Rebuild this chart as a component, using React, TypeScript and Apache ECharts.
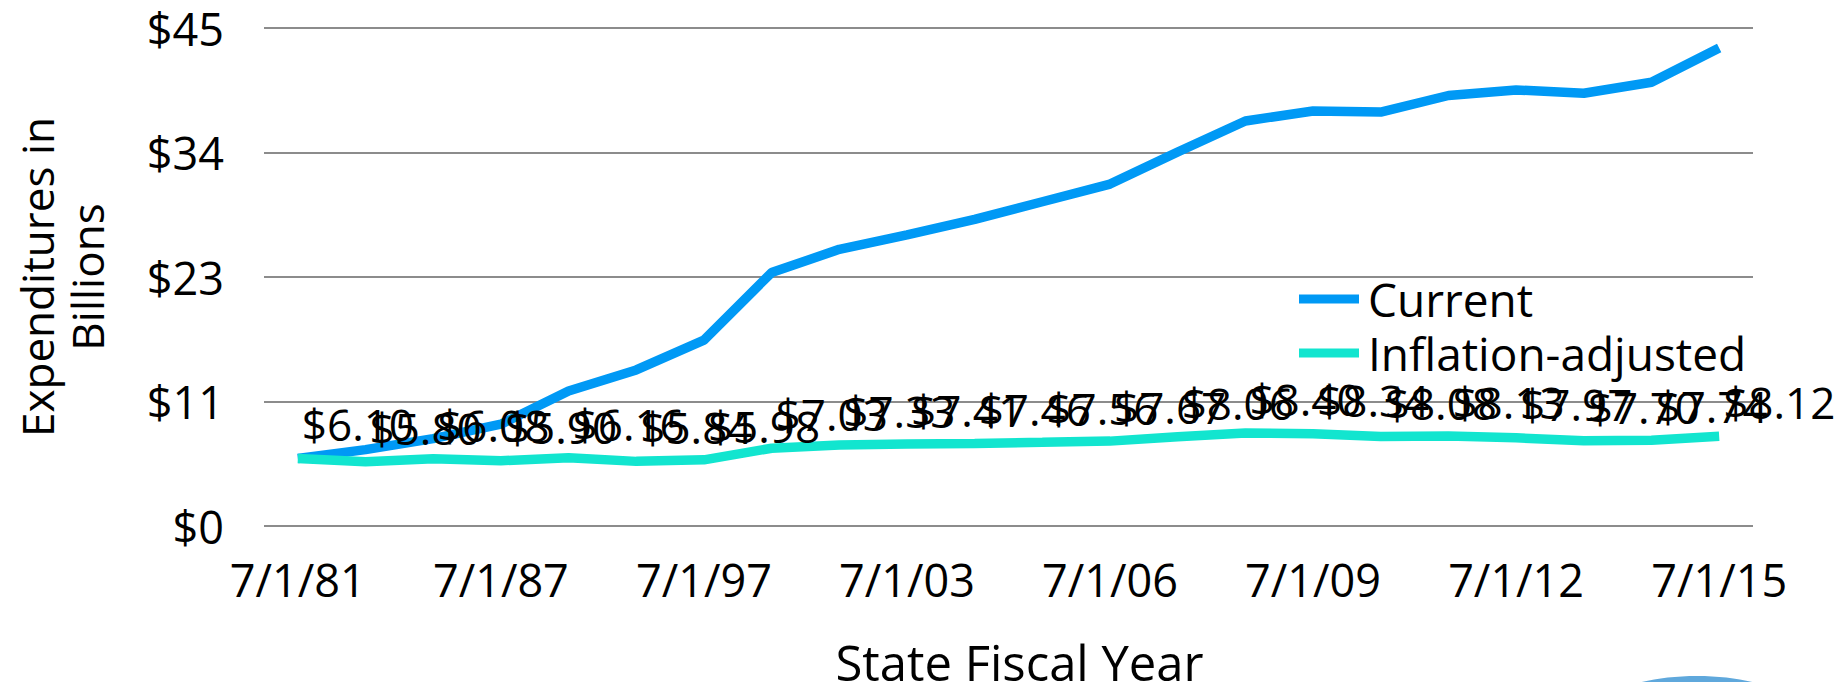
import React, { useEffect, useRef } from "react";
import * as echarts from "echarts";

const categories = [
  "7/1/81", "7/1/83", "7/1/85", "7/1/87", "7/1/91", "7/1/94", "7/1/97", "7/1/99",
  "7/1/01", "7/1/03", "7/1/04", "7/1/05", "7/1/06", "7/1/07", "7/1/08", "7/1/09",
  "7/1/10", "7/1/11", "7/1/12", "7/1/13", "7/1/14", "7/1/15",
];

const currentValues = [
  6.1, 6.9, 7.9, 9.2, 12.2, 14.1, 16.8, 22.9, 25.0, 26.3, 27.7, 29.3,
  30.9, 33.8, 36.6, 37.5, 37.4, 38.9, 39.4, 39.1, 40.1, 43.2,
];

const inflationAdjusted = [
  6.10, 5.80, 6.08, 5.90, 6.16, 5.84, 5.98, 7.03, 7.33, 7.41, 7.46, 7.56,
  7.67, 8.06, 8.40, 8.34, 8.08, 8.13, 7.97, 7.70, 7.74, 8.12,
];

const seriesNames = ["Current", "Inflation-adjusted"];
const yTickMax = 45;
const yTickStep = 11.25;

const FONT = "'Open Sans', sans-serif";

export default function App() {
  const ref = useRef<HTMLDivElement>(null);

  useEffect(() => {
    if (!ref.current) return;
    const chart = echarts.init(ref.current, null, { renderer: "svg" });
    chart.setOption({
      animation: false,
      backgroundColor: "#ffffff",
      textStyle: { fontFamily: FONT, color: "#000" },
      grid: {
        left: 264,
        right: 92,
        top: 28,
        bottom: 156,
        containLabel: false,
        outerBoundsMode: "none",
      },
      legend: {
        orient: "vertical",
        left: 1294,
        top: 270,
        itemWidth: 60,
        itemHeight: 9,
        itemGap: 6,
        icon: "rect",
        data: seriesNames,
        textStyle: { fontFamily: FONT, fontSize: 46, color: "#000", lineHeight: 48, padding: [0, 0, 0, 4] },
      },
      xAxis: {
        type: "category",
        data: categories,
        boundaryGap: true,
        axisLine: { show: false },
        axisTick: { show: false },
        axisLabel: { interval: 2, margin: 30, fontSize: 45, color: "#000", fontFamily: FONT, lineHeight: 46 },
        name: "State Fiscal Year",
        nameLocation: "middle",
        nameGap: 116,
        nameTextStyle: { fontSize: 49, color: "#000", fontFamily: FONT, lineHeight: 40, padding: [0, 0, 0, 22] },
      },
      yAxis: {
        type: "value",
        min: 0,
        max: yTickMax,
        interval: yTickStep,
        axisLine: { show: false },
        axisTick: { show: false },
        splitLine: { lineStyle: { color: "#8c8c8c", width: 2 } },
        axisLabel: {
          margin: 40,
          fontSize: 45,
          lineHeight: 40,
          color: "#000",
          fontFamily: FONT,
          formatter: (v: number) => "$" + Math.round(v),
        },
        name: "Expenditures in\nBillions",
        nameLocation: "middle",
        nameGap: 152,
        nameRotate: 90,
        nameTextStyle: { fontSize: 44, color: "#000", fontFamily: FONT, lineHeight: 50 },
      },
      series: [
        {
          name: seriesNames[0],
          type: "line",
          data: currentValues,
          symbol: "none",
          lineStyle: { color: "#0099f5", width: 9.5 },
          itemStyle: { color: "#0099f5" },
        },
        {
          name: seriesNames[1],
          type: "line",
          data: inflationAdjusted,
          symbol: "circle",
          symbolSize: 0,
          showSymbol: true,
          lineStyle: { color: "#12e5cf", width: 9.5 },
          itemStyle: { color: "#12e5cf" },
          label: {
            show: true,
            position: [4, -34],
            align: "left",
            verticalAlign: "middle",
            fontSize: 44,
            color: "#000",
            fontFamily: FONT,
            formatter: (p: any) => "$" + Number(p.value).toFixed(2),
          },
          labelLayout: { hideOverlap: false },
        },
      ],
      graphic: [
        {
          type: "ellipse",
          shape: { cx: 1697, cy: 712, rx: 100, ry: 36 },
          style: { fill: "#5fa8dc" },
          silent: true,
        },
      ],
    });
    return () => chart.dispose();
  }, []);

  return (
    <div
      ref={ref}
      style={{ position: "fixed", left: 0, top: 0, width: 1845, height: 682 }}
    />
  );
}
